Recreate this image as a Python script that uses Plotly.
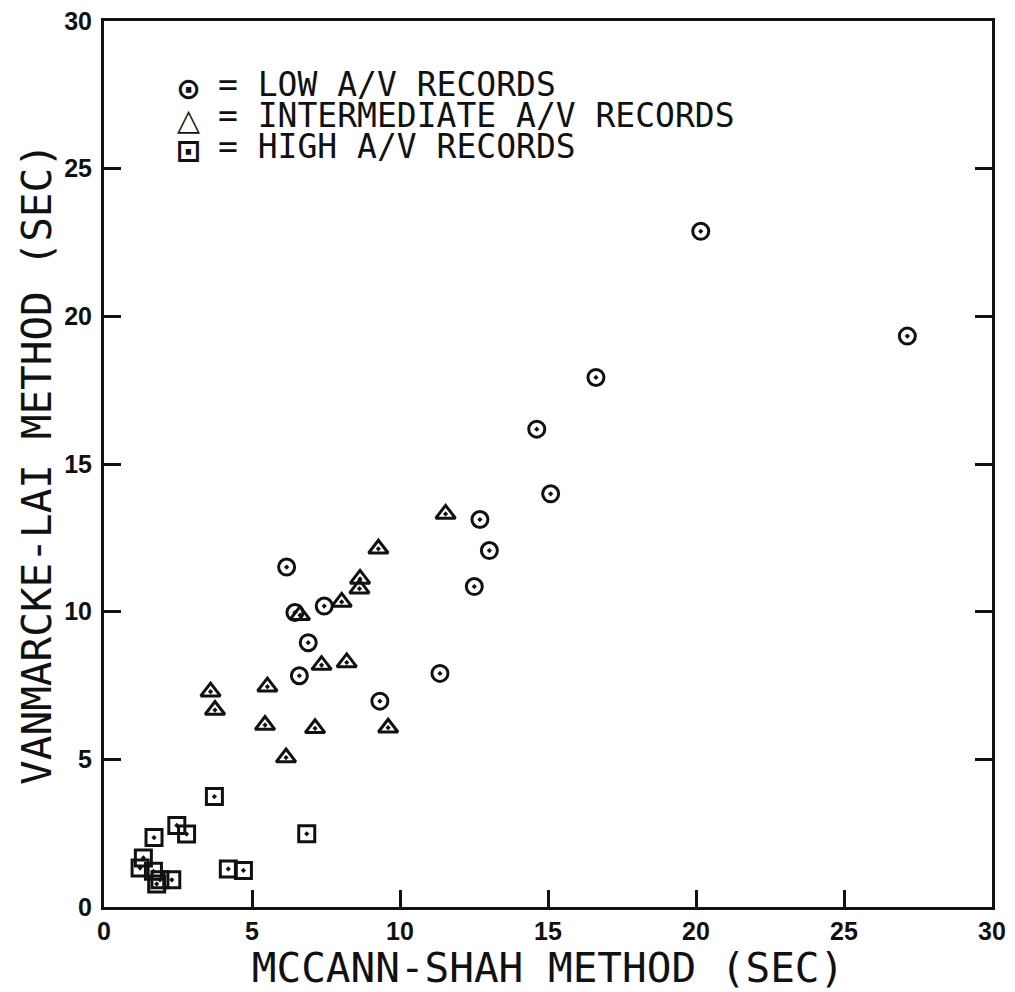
import plotly.graph_objects as go

# ---- data ----
low_x = [20.16, 27.14, 16.62, 14.62, 15.09, 12.70, 13.02, 12.51, 6.17, 7.44, 6.45, 6.90, 6.60, 11.35, 9.32]
low_y = [22.88, 19.33, 17.93, 16.18, 13.99, 13.12, 12.07, 10.85, 11.51, 10.19, 9.97, 8.95, 7.83, 7.91, 6.97]

mid_x = [11.54, 9.27, 8.65, 8.63, 8.03, 6.62, 7.35, 8.20, 3.60, 5.52, 3.75, 5.44, 7.13, 9.60, 6.15]
mid_y = [13.31, 12.13, 11.11, 10.78, 10.33, 9.88, 8.19, 8.28, 7.29, 7.46, 6.67, 6.16, 6.05, 6.07, 5.06]

high_x = [3.73, 2.46, 2.79, 6.85, 4.20, 4.71, 1.69, 1.33, 1.22, 1.67, 1.89, 2.29, 1.78]
high_y = [3.74, 2.76, 2.47, 2.48, 1.29, 1.24, 2.35, 1.66, 1.32, 1.21, 0.92, 0.92, 0.78]

tick_vals = [0, 5, 10, 15, 20, 25, 30]
tick_text = ["0", "5", "10", "15", "20", "25", "30"]

legend_symbols = ["\u2299", "\u25B3", "\u22A1"]
legend_labels = ["= LOW A/V RECORDS", "= INTERMEDIATE A/V RECORDS", "= HIGH A/V RECORDS"]

x_title = "MCCANN-SHAH METHOD (SEC)"
y_title = "VANMARCKE-LAI METHOD (SEC)"

INK = "#111111"
MONO = "DejaVu Sans Mono, Liberation Mono, monospace"

# the page body has an 8px margin: work in window pixels, then convert
BODY = 8
WIN_W, WIN_H = 1015, 992
W, H = WIN_W - BODY, WIN_H - BODY
plot_left, plot_right, plot_top, plot_bottom = 104, 992, 21, 907   # window pixels

fig = go.Figure()
fig.add_trace(go.Scatter(
    x=low_x, y=low_y, mode="markers", name="LOW A/V RECORDS",
    marker=dict(symbol="circle-open-dot", size=16, color=INK, line=dict(width=3, color=INK)),
))
fig.add_trace(go.Scatter(
    x=mid_x, y=mid_y, mode="markers", name="INTERMEDIATE A/V RECORDS",
    marker=dict(symbol="triangle-up-open-dot", size=17, color=INK, line=dict(width=3, color=INK)),
))
fig.add_trace(go.Scatter(
    x=high_x, y=high_y, mode="markers", name="HIGH A/V RECORDS",
    marker=dict(symbol="square-open-dot", size=16, color=INK, line=dict(width=3, color=INK)),
))

axis_common = dict(
    range=[0, 30], tickmode="array", tickvals=tick_vals, ticktext=tick_text,
    showgrid=False, zeroline=False, showline=True, linewidth=3, linecolor=INK,
    ticks="inside", ticklen=17, tickwidth=3, tickcolor=INK, ticklabeloverflow="allow",
    tickfont=dict(family="Liberation Sans, Arial, sans-serif", size=25, color=INK, weight="bold"),
)

fig.update_xaxes(**axis_common, mirror=True, ticklabelstandoff=0,
                 title=dict(text=x_title, font=dict(family=MONO, size=41, color=INK), standoff=14))
fig.update_yaxes(**axis_common, mirror="ticks", ticklabelstandoff=4,
                 title=dict(text=y_title, font=dict(family=MONO, size=41, color=INK), standoff=0))

pw = plot_right - plot_left
ph = plot_bottom - plot_top

def px_to_paper(px, py):
    return (px - plot_left) / pw, (plot_bottom - py) / ph

# legend block: base font 24px gives ~31px line pitch, glyphs enlarged by spans
sym_text = "<br>".join(f'<span style="font-size:30px;font-weight:bold">{s}</span>' for s in legend_symbols)
lab_text = "<br>".join(f'<span style="font-size:33px">{t}</span>' for t in legend_labels)

sx, sy = px_to_paper(188, 119)
fig.add_annotation(x=sx, y=sy, xref="paper", yref="paper", text=sym_text, showarrow=False,
                   xanchor="center", yanchor="middle", align="center",
                   font=dict(family="DejaVu Sans, sans-serif", size=24, color=INK))
tx, ty = px_to_paper(216, 116)
fig.add_annotation(x=tx, y=ty, xref="paper", yref="paper", text=lab_text, showarrow=False,
                   xanchor="left", yanchor="middle", align="left",
                   font=dict(family=MONO, size=24, color=INK))

fig.update_layout(
    width=W, height=H,
    margin=dict(l=plot_left - BODY, r=WIN_W - plot_right, t=plot_top - BODY,
                b=WIN_H - plot_bottom, autoexpand=False),
    paper_bgcolor="white", plot_bgcolor="white",
    showlegend=False,
)

fig.write_html("out.html")
